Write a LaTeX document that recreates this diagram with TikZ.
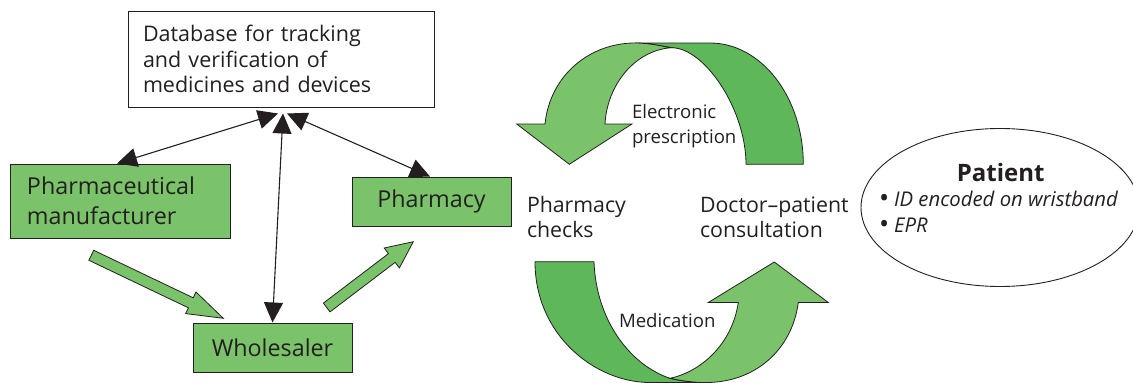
\documentclass[tikz,border=0pt]{standalone}
\usepackage{fontspec}
\setmainfont{Open Sans}
\usetikzlibrary{arrows.meta,shapes.geometric}
\definecolor{lightgreen}{RGB}{122,195,106}
\definecolor{darkgreen}{RGB}{94,184,90}
\definecolor{outline}{RGB}{35,31,32}
\newcommand\dbfont{\fontsize{21.5pt}{25.5pt}\selectfont}
\newcommand\boxfont{\fontsize{23.3pt}{30pt}\selectfont}
\newcommand\midfont{\fontsize{21.3pt}{25pt}\selectfont}
\newcommand\labfont{\fontsize{18.6pt}{25pt}\selectfont}
\newcommand\patfont{\fontsize{20.3pt}{26pt}\selectfont}
\newcommand\bigbul{{\fontsize{27pt}{26pt}\selectfont\raisebox{-1.2pt}{•}}\hspace{5pt}}
\begin{document}
\begin{tikzpicture}[x=1pt,y=-1pt,
  box/.style={draw=outline,line width=1pt,rectangle,inner sep=0pt},
  greenbox/.style={box,fill=lightgreen},
  link/.style={draw=outline,line width=1.1pt,
    {Triangle[length=20pt,width=19pt]}-{Triangle[length=20pt,width=19pt]}},
  flow/.style={draw=outline,line width=0.8pt,fill=lightgreen},
  cyclelight/.style={draw=outline,line width=0.8pt,fill=lightgreen},
  cycledark/.style={draw=outline,line width=0.8pt,fill=darkgreen},
  plain/.style={inner sep=0pt,outer sep=0pt,text=outline}]
\useasboundingbox (0,0) rectangle (1133,383);

% boxes
\node[box,minimum width=306pt,minimum height=96pt,text width=276pt,align=left,font=\dbfont,text=outline] (db) at (281,59)
  {Database for tracking\\and verification of\\medicines and devices};
\node[greenbox,minimum width=220pt,minimum height=74pt,text width=186pt,align=left,font=\boxfont,text=outline] (manu) at (120,201)
  {Pharmaceutical\\manufacturer};
\node[greenbox,minimum width=159pt,minimum height=49pt,font=\boxfont,text=outline] (pharm) at (431.5,201.5) {Pharmacy};
\node[greenbox,minimum width=159pt,minimum height=49pt,font=\boxfont,text=outline] (whole) at (272.5,347.5) {Wholesaler};

% thin double-headed connectors
\coordinate (dbl) at ([shift={(-3,6)}]db.south);
\coordinate (dbm) at ([shift={(2,6)}]db.south);
\coordinate (dbr) at ([shift={(6,6)}]db.south);
\draw[link] (dbl) -- ([xshift=-3pt]manu.north);
\draw[link] (dbm) -- (whole.north);
\draw[link] (dbr) -- ([xshift=-1.5pt]pharm.north);

% block arrows
\path[flow] (93.7,250.3) -- (193.2,297.8) -- (196.0,292.0) -- (223.3,318.3)
  -- (185.6,313.6) -- (188.4,307.8) -- (88.9,260.3) -- cycle;
\path[flow] (323.4,303.1) -- (388.5,253.6) -- (384.2,248.0) -- (413.3,241.7)
  -- (399.4,267.9) -- (395.1,262.4) -- (330.0,311.9) -- cycle;

% upper cycle arrow
\path[cycledark] (635,43) -- (710,43) .. controls (761.3,43) and (803.3,97.2) .. (803.3,164.3)
  -- (746,164.3) .. controls (746,110) and (705,48) .. (671.7,47.7)
  .. controls (660,46) and (650,43) .. (635,43) -- cycle;
\path[cyclelight] (516.7,124) -- (545,124) .. controls (550,75) and (590,43) .. (635,43)
  .. controls (650,43) and (660,46) .. (671.7,47.7)
  .. controls (635,50) and (607,85) .. (605,124) -- (632,124) -- (569.3,164.3) -- cycle;

% lower cycle arrow
\path[cycledark] (535,261.7) -- (594,261.7) .. controls (596,320) and (630,365) .. (670,378.3)
  .. controls (682,381) and (694,382.5) .. (706,382.5) -- (650,382.5)
  .. controls (595,382.5) and (535,335) .. (535,261.7) -- cycle;
\path[cyclelight] (708.3,302.5) -- (774.3,262) -- (828.3,302.5) -- (798.3,302.5)
  .. controls (792,350) and (755,382.5) .. (706,382.5)
  .. controls (694,382.5) and (682,381) .. (670,378.3)
  .. controls (700,372) and (732,345) .. (738.3,302.5) -- cycle;

% cycle texts (base anchor = baseline of last line)
\node[plain,anchor=base west,align=left,font=\midfont] (checks) at (527,237) {Pharmacy\\checks};
\node[plain,anchor=base west,align=left,font=\midfont] (consult) at (700,237) {Doctor–patient\\consultation};
\node[plain,anchor=base west,align=left,font=\labfont] (eprx) at (632,143) {Electronic\\prescription};
\node[plain,anchor=base west,font=\labfont] (medic) at (619,327) {Medication};

% patient
\node[draw=outline,line width=0.9pt,ellipse,minimum width=278pt,minimum height=158pt,inner sep=0pt] (patient) at (1000,207.5) {};
\node[plain,anchor=base,font=\fontsize{24pt}{28pt}\selectfont\bfseries] (ptitle) at (1000.7,181) {Patient};
\node[plain,anchor=base west,align=left,font=\patfont] (plist) at (879,232.7)
  {\bigbul\textit{ID encoded on wristband}\\\bigbul\textit{EPR}};
\end{tikzpicture}
\end{document}
